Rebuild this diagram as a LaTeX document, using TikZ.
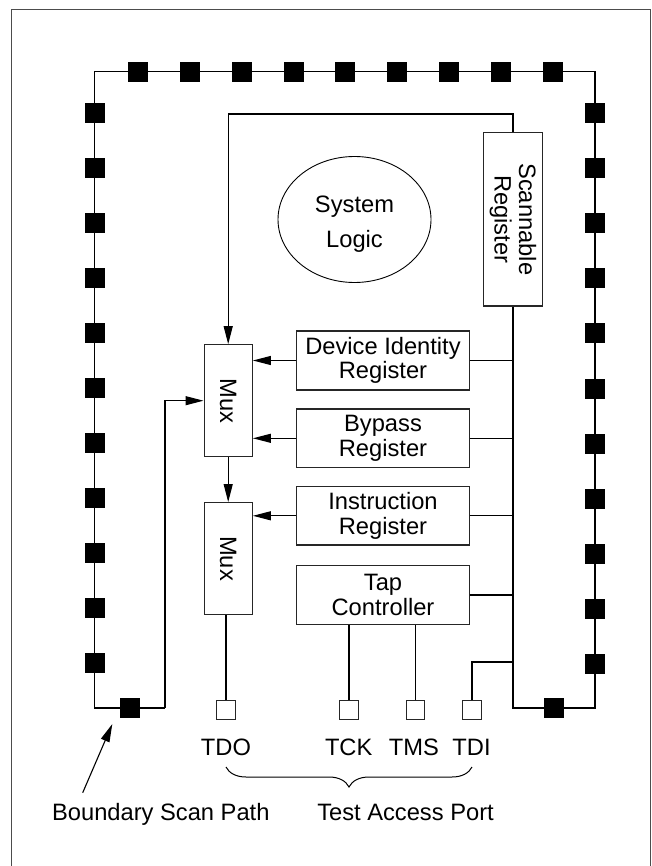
\documentclass[tikz,border=0pt]{standalone}
\usepackage{fontspec}
\setmainfont{Liberation Sans}
\usetikzlibrary{arrows.meta,shapes.geometric,decorations.pathreplacing,calc}
\begin{document}
\begin{tikzpicture}[x=1pt,y=-1pt,
  every node/.style={font=\fontsize{23.7}{24.7}\selectfont},
  wire/.style={line width=1.1pt, draw=black},
  arr/.style={wire, -{Triangle[length=18pt,width=9pt]}},
  box/.style={draw=black!85, line width=1.1pt, inner sep=0pt, align=center},
  cell/.style={fill=black, draw=black, line width=0.5pt, minimum size=19pt, inner sep=0pt},
  pad/.style={draw=black!85, fill=white, line width=1pt, minimum size=18.5pt, inner sep=0pt},
  lbl/.style={anchor=base, inner sep=0pt},
]
\useasboundingbox (0,0) rectangle (652,866);
\coordinate (fBL) at (11,880);
\coordinate (fTL) at (11,9.5);
\coordinate (fTR) at (650.5,9.5);
\coordinate (fBR) at (650.5,880);
\draw[black!70, line width=1pt] (fBL) -- (fTL) -- (fTR) -- (fBR);

% nodes
\node[box, minimum width=59pt, minimum height=173.3pt] (scan) at (513,219.3) {};
\node[rotate=-90, align=center] (scant) at (scan.center) {Scannable\\Register};
\node[draw, ellipse, line width=0.9pt, minimum width=153pt, minimum height=126pt, inner sep=0pt] (logic) at (354.5,219.5) {};
\node[align=center, font=\fontsize{23.7}{35}\selectfont] (logict) at ($(logic.center)+(0,5)$) {System\\Logic};

\node[box, minimum width=172.6pt, minimum height=59pt] (devid) at (383,360.5) {Device Identity\\Register};
\node[box, minimum width=172.6pt, minimum height=58.7pt] (bypass) at (383,438.3) {Bypass\\Register};
\node[box, minimum width=172.6pt, minimum height=58.3pt] (instr) at (383,515.8) {Instruction\\Register};
\node[box, minimum width=172.6pt, minimum height=58.6pt] (tap) at (383,595) {Tap\\Controller};
\node[box, minimum width=48.3pt, minimum height=112pt] (mux1) at (228.2,400.7) {};
\node[box, minimum width=48.3pt, minimum height=112pt] (mux2) at (228.2,558.6) {};
\node[rotate=-90] (mux1t) at (mux1.center) {Mux};
\node[rotate=-90] (mux2t) at (mux2.center) {Mux};

\node[pad] (tdo) at (226,710) {};
\node[pad] (tck) at (349,710) {};
\node[pad] (tms) at (415.5,710) {};
\node[pad] (tdi) at (472,710) {};

% coordinates
\coordinate (looptop) at (513,114);
\coordinate (busbot) at (513,708);
\coordinate (bTL) at (94.5,71.5);
\coordinate (bTR) at (595,71.5);
\coordinate (bBR) at (595,708);
\coordinate (bBL) at (94.5,708);
\coordinate (bRet) at (165,708);
\coordinate (tdijoin) at (513,662);

% wires
\draw[arr] (scan.north) -- (scan.north |- looptop) -| (mux1.north);
\draw[wire] (scan.south) -- (busbot) -- (bBR) -- (bTR) -- (bTL) -- (bBL) -- (bRet);
\draw[arr] (bRet) |- (mux1.west);
\draw[wire] (devid.east) -- (devid.east -| busbot);
\draw[wire] (bypass.east) -- (bypass.east -| busbot);
\draw[wire] (instr.east) -- (instr.east -| busbot);
\draw[wire] (tap.east) -- (tap.east -| busbot);
\draw[arr] (devid.west) -- (devid.west -| mux1.east);
\draw[arr] (bypass.west) -- (bypass.west -| mux1.east);
\draw[arr] (instr.west) -- (instr.west -| mux2.east);
\draw[arr] (mux1.south) -- (mux2.north);
\draw[wire] (tdo.north) -- (tdo.north |- mux2.south);
\draw[wire] (tck.north) -- (tck.north |- tap.south);
\draw[wire] (tms.north) -- (tms.north |- tap.south);
\draw[wire] (tdi.north) |- (tdijoin);

% boundary cells
\foreach \i in {1,...,9} \node[cell] (t\i) at ({138+51.8*(\i-1)},71.5) {};
\foreach \i in {1,...,11} \node[cell] (l\i) at (94.5,{112.3+55*(\i-1)}) {};
\foreach \i in {1,...,11} \node[cell] (r\i) at (595,{112.8+55.1*(\i-1)}) {};
\node[cell] (bl) at (130,708) {};
\node[cell] (br) at (554,708) {};

% labels
\node[lbl] (tdol) at (226,755) {TDO};
\node[lbl] (tckl) at (348.7,755) {TCK};
\node[lbl] (tmsl) at (414,755) {TMS};
\node[lbl] (tdil) at (471.5,755) {TDI};
\coordinate (braceL) at (226,767);
\coordinate (braceR) at (472,767);
\draw[line width=1pt, decorate, decoration={brace, mirror, amplitude=20pt}] (braceL) -- (braceR);
\node[lbl] (taplbl) at (405.5,820) {Test Access Port};
\node[lbl] (bsp) at (160.8,820) {Boundary Scan Path};
\coordinate (bspTail) at (82.7,792.7);
\coordinate (bspHead) at (112.3,724);
\draw[arr] (bspTail) -- (bspHead);
\end{tikzpicture}
\end{document}
